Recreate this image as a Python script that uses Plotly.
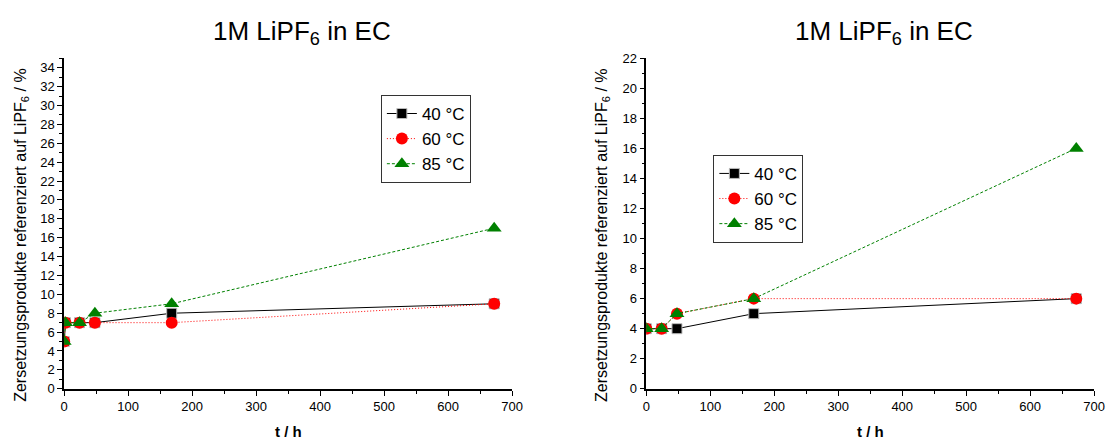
import plotly.graph_objects as go

# Left panel data
t_left = [0, 2, 24, 48, 168, 672]
left_40 = [5, 7, 7, 7, 8, 9]
left_60 = [5, 7, 7, 7, 7, 9]
left_85 = [5, 7, 7, 8, 9, 17]

# Right panel data
t_right = [0, 24, 48, 168, 672]
right_40 = [4, 4, 4, 5, 6]
right_60 = [4, 4, 5, 6, 6]
right_85 = [4, 4, 5, 6, 16]

series_names = ["40 °C", "60 °C", "85 °C"]
title_text = "1M LiPF<sub>6</sub> in EC"
ytitle = "Zersetzungsprodukte referenziert auf LiPF<sub>6</sub> / %"
xtitle = "<b>t / h</b>"

styles = [
    dict(line=dict(color="black", width=1, dash="solid"),
         marker=dict(symbol="square", size=10, color="black", line=dict(color="#bbbbbb", width=1))),
    dict(line=dict(color="red", width=1, dash="1px,2px"),
         marker=dict(symbol="circle", size=12, color="red", line=dict(width=0))),
    dict(line=dict(color="green", width=1, dash="3px,2px"),
         marker=dict(symbol="triangle-up", size=13, color="green", line=dict(width=0))),
]

fig = go.Figure()
for name, y, st in zip(series_names, [left_40, left_60, left_85], styles):
    fig.add_trace(go.Scatter(x=t_left, y=y, name=name, mode="lines+markers",
                             line=st["line"], marker=st["marker"],
                             xaxis="x", yaxis="y", legend="legend"))
for name, y, st in zip(series_names, [right_40, right_60, right_85], styles):
    fig.add_trace(go.Scatter(x=t_right, y=y, name=name, mode="lines+markers",
                             line=st["line"], marker=st["marker"],
                             xaxis="x2", yaxis="y2", legend="legend2"))

W, H = 1119, 448
left_dom = [61 / W, 515 / W]
right_dom = [651 / W, 1105 / W]
ydom = [(H - 395) / H, (H - 53) / H]

font_family = "Liberation Sans, Arial, sans-serif"

def xaxis_cfg(dom, anchor):
    return dict(domain=dom, anchor=anchor, range=[0, 700], dtick=100, tick0=0,
                showgrid=False, zeroline=False, showline=True, linecolor="black", linewidth=1.5,
                ticks="outside", ticklen=5, tickwidth=1, tickcolor="black",
                minor=dict(ticks="outside", ticklen=3, dtick=50, tickcolor="black"),
                tickfont=dict(size=13, color="black"), mirror=False)

def yaxis_cfg(rng, dom, anchor):
    return dict(domain=dom, anchor=anchor, range=rng, dtick=2, tick0=0,
                showgrid=False, zeroline=False, showline=True, linecolor="black", linewidth=1.5,
                ticks="outside", ticklen=5, tickwidth=1, tickcolor="black",
                minor=dict(ticks="outside", ticklen=3, dtick=1, tickcolor="black"),
                tickfont=dict(size=13, color="black"))

legend_common = dict(bgcolor="white", bordercolor="#333333", borderwidth=1,
                     font=dict(size=17, color="black", family=font_family),
                     xanchor="left", yanchor="top",
                     tracegroupgap=0, itemwidth=30)

fig.update_layout(
    width=W, height=H,
    margin=dict(l=0, r=0, t=0, b=0),
    paper_bgcolor="white", plot_bgcolor="white",
    font=dict(family=font_family, color="black"),
    xaxis=xaxis_cfg(left_dom, "y"),
    yaxis=yaxis_cfg([0, 35], ydom, "x"),
    xaxis2=xaxis_cfg(right_dom, "y2"),
    yaxis2=yaxis_cfg([0, 22], ydom, "x2"),
    legend=dict(x=382 / W, y=1 - 91 / H, **legend_common),
    legend2=dict(x=719 / W, y=1 - 153 / H, **legend_common),
    showlegend=True,
    annotations=[
        dict(text=title_text, x=302 / W, y=1 - 26 / H, xref="paper", yref="paper",
             showarrow=False, font=dict(size=26), xanchor="center", yanchor="middle"),
        dict(text=title_text, x=892 / W, y=1 - 26 / H, xref="paper", yref="paper",
             showarrow=False, font=dict(size=26), xanchor="center", yanchor="middle"),
        dict(text=ytitle, x=17 / W, y=1 - 236 / H, xref="paper", yref="paper",
             showarrow=False, font=dict(size=16), textangle=-90, xanchor="center", yanchor="middle"),
        dict(text=ytitle, x=606 / W, y=1 - 236 / H, xref="paper", yref="paper",
             showarrow=False, font=dict(size=16), textangle=-90, xanchor="center", yanchor="middle"),
        dict(text=xtitle, x=288 / W, y=1 - 439 / H, xref="paper", yref="paper",
             showarrow=False, font=dict(size=15), xanchor="center", yanchor="middle"),
        dict(text=xtitle, x=878 / W, y=1 - 439 / H, xref="paper", yref="paper",
             showarrow=False, font=dict(size=15), xanchor="center", yanchor="middle"),
    ],
)

fig.write_html("out.html")
